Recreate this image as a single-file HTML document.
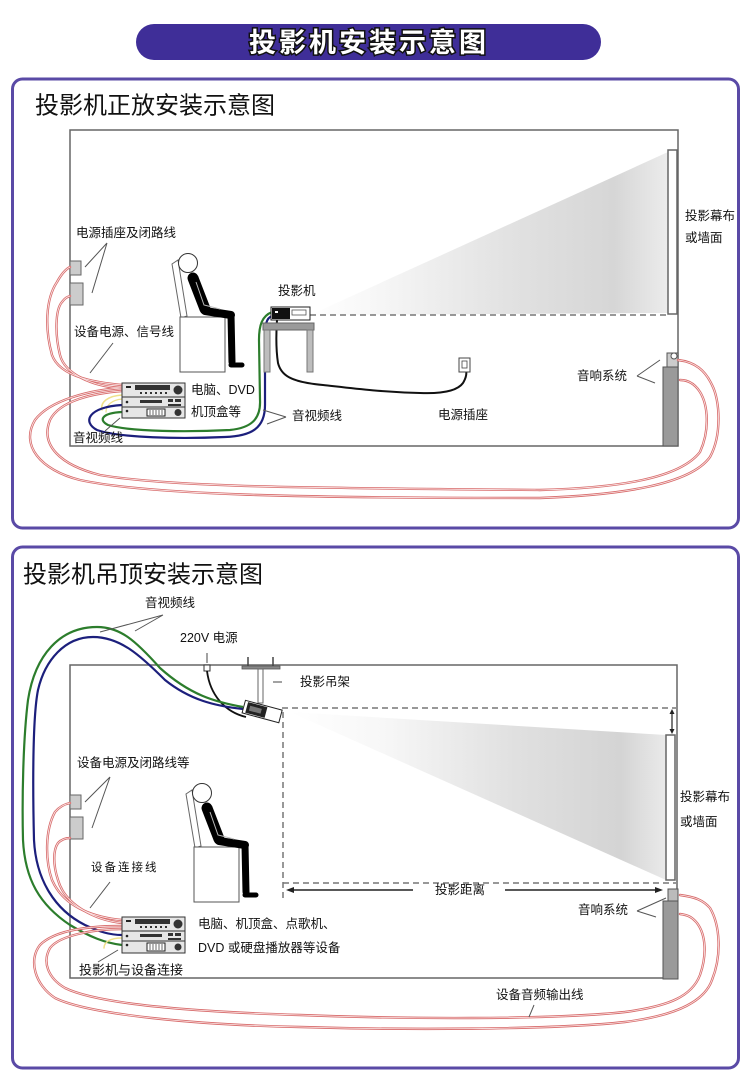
<!DOCTYPE html>
<html>
<head>
<meta charset="utf-8">
<style>
  html,body{margin:0;padding:0;background:#fff;}
  svg{display:block;}
  text{font-family:"Liberation Sans","Noto Sans CJK SC",sans-serif;}
</style>
</head>
<body>
<svg width="750" height="1092" viewBox="0 0 750 1092" xmlns="http://www.w3.org/2000/svg">
  <defs>
    <linearGradient id="beam1" x1="310" y1="0" x2="668" y2="0" gradientUnits="userSpaceOnUse">
      <stop offset="0" stop-color="#ffffff"/>
      <stop offset="0.2" stop-color="#f6f6f6"/>
      <stop offset="0.55" stop-color="#e2e2e2"/>
      <stop offset="0.85" stop-color="#d6d6d6"/>
      <stop offset="1" stop-color="#ececec"/>
    </linearGradient>
    <linearGradient id="beam2" x1="290" y1="0" x2="666" y2="0" gradientUnits="userSpaceOnUse">
      <stop offset="0" stop-color="#ffffff"/>
      <stop offset="0.25" stop-color="#f7f7f7"/>
      <stop offset="0.6" stop-color="#e0e0e0"/>
      <stop offset="0.88" stop-color="#d4d4d4"/>
      <stop offset="1" stop-color="#eaeaea"/>
    </linearGradient>
  </defs>

  <!-- Banner -->
  <rect x="136" y="24" width="465" height="36" rx="18" fill="#3f2e98"/>
  <text x="369" y="43" font-size="27" font-weight="bold" fill="#fff" stroke="#111" stroke-width="3" paint-order="stroke" text-anchor="middle" dominant-baseline="central" letter-spacing="3">投影机安装示意图</text>

  <!-- Panel 1 -->
  <rect x="12.5" y="79" width="726" height="449" rx="10" fill="#fff" stroke="#5a4aa6" stroke-width="3"/>
  <text x="35" y="106" font-size="24" fill="#111" dominant-baseline="central">投影机正放安装示意图</text>

  <!-- beam 1 -->
  <polygon points="310,315 668,152 668,313" fill="url(#beam1)"/>
  <!-- room 1 -->
  <rect x="70" y="130" width="608" height="316" fill="none" stroke="#666" stroke-width="1.5"/>
  <!-- dashed -->
  <line x1="310" y1="315" x2="668" y2="315" stroke="#777" stroke-width="1.5" stroke-dasharray="6 4"/>
  <!-- screen -->
  <rect x="668" y="150" width="9" height="164" fill="#fff" stroke="#666" stroke-width="1.5"/>
  <!-- speaker -->
  <rect x="667" y="353" width="11" height="14" fill="#ccc" stroke="#555"/>
  <circle cx="674" cy="356" r="3" fill="#fff" stroke="#555"/>
  <rect x="663" y="367" width="15" height="79" fill="#9a9a9a" stroke="#555"/>

  <!-- outlets -->
  <rect x="70" y="261" width="11" height="14" fill="#ccc" stroke="#666"/>
  <rect x="70" y="283" width="13" height="22" fill="#ccc" stroke="#666"/>

  <!-- red cables panel 1 -->
  <g fill="none" stroke-linecap="round">
    <g stroke="#d76a6a" stroke-width="2.4">
      <path d="M122 385 C100 383,60 378,52 355 C45 330,45 300,57 282 C62 273,66 269,70 267"/>
      <path d="M122 388 C95 387,65 375,60 355 C55 335,55 310,62 302 C65 298,67 297,70 296"/>
      <path d="M122 388 C90 390,50 400,35 420 C20 445,40 470,80 480 C150 495,300 498,540 498 C620 495,690 485,710 457 C722 435,720 400,712 385 C705 370,695 362,678 360"/>
      <path d="M122 391 C95 393,60 400,50 420 C40 445,60 465,100 475 C170 487,300 488,540 490 C620 488,680 478,700 452 C710 430,708 405,700 392 C695 384,688 380,680 380"/>
    </g>
    <g stroke="#fbeaea" stroke-width="0.8">
      <path d="M122 385 C100 383,60 378,52 355 C45 330,45 300,57 282 C62 273,66 269,70 267"/>
      <path d="M122 388 C95 387,65 375,60 355 C55 335,55 310,62 302 C65 298,67 297,70 296"/>
      <path d="M122 388 C90 390,50 400,35 420 C20 445,40 470,80 480 C150 495,300 498,540 498 C620 495,690 485,710 457 C722 435,720 400,712 385 C705 370,695 362,678 360"/>
      <path d="M122 391 C95 393,60 400,50 420 C40 445,60 465,100 475 C170 487,300 488,540 490 C620 488,680 478,700 452 C710 430,708 405,700 392 C695 384,688 380,680 380"/>
    </g>
    <!-- yellow faint -->
    <path d="M122 395 C108 396,100 402,102 410" stroke="#efe08a" stroke-width="1.5"/>
    <path d="M122 399 C112 400,106 405,106 412" stroke="#efe08a" stroke-width="1.2"/>
  </g>

  <!-- green / blue cables panel 1 -->
  <path d="M272 312 C262 316,259 325,259 340 L260 400 C261 420,250 428,230 430 C190 432,130 432,108 425 C98 420,102 413,122 412" fill="none" stroke="#2c7d2c" stroke-width="2.2"/>
  <path d="M272 316 C266 318,265 325,265 340 L265 405 C265 428,252 436,225 437 C180 439,120 438,97 430 C82 422,88 407,122 405" fill="none" stroke="#1c1f7c" stroke-width="2.2"/>

  <!-- power cable -->
  <path d="M277 320 C276 335,276 350,278 363 C281 375,290 382,323 385 C350 388,380 392,420 393 C445 394,458 390,463 383 C466 378,467 374,466 370" fill="none" stroke="#111" stroke-width="2"/>
  <!-- wall outlet -->
  <rect x="459" y="358" width="11" height="14" fill="#fff" stroke="#444"/>
  <rect x="462" y="361" width="5" height="7" fill="#fff" stroke="#444" stroke-width="0.8"/>

  <!-- table -->
  <rect x="263" y="323" width="51" height="7" fill="#9a9a9a" stroke="#666"/>
  <rect x="264" y="330" width="6" height="42" fill="#bdbdbd" stroke="#777"/>
  <rect x="307" y="330" width="6" height="42" fill="#bdbdbd" stroke="#777"/>
  <!-- projector 1 -->
  <rect x="271" y="307" width="39" height="13" fill="#fff" stroke="#222"/>
  <rect x="272" y="308" width="18" height="11" fill="#111"/>
  <rect x="275" y="311" width="3" height="2" fill="#fff"/>
  <rect x="292" y="310" width="14" height="5" fill="none" stroke="#555" stroke-width="0.8"/>

  <!-- person 1 -->
  <polygon points="172,264 178,260 187,316 181,318" fill="#fff" stroke="#666"/>
  <rect x="180" y="317" width="45" height="55" fill="#fff" stroke="#555"/>
  <g stroke="#000" stroke-linecap="round" fill="none">
    <path d="M193 278 L205 309" stroke-width="11"/>
    <path d="M205 311 L231 315" stroke-width="8"/>
    <path d="M231 315 L232 362" stroke-width="7"/>
    <path d="M231 365 L242 365" stroke-width="5"/>
  </g>
  <path d="M196 282 L204 305 L220 309" fill="none" stroke="#bbb" stroke-width="1"/>
  <circle cx="188" cy="263" r="9.5" fill="#fff" stroke="#333"/>

  <!-- equipment 1 -->
  <g id="eq1">
    <rect x="122" y="383" width="63" height="14" fill="#e6e6e6" stroke="#333"/>
    <rect x="126" y="386" width="5" height="2" fill="#222"/>
    <rect x="135" y="385" width="35" height="5" fill="#333"/>
    <g fill="#333">
      <rect x="140" y="392" width="2" height="2"/><rect x="145" y="392" width="2" height="2"/><rect x="150" y="392" width="2" height="2"/><rect x="155" y="392" width="2" height="2"/><rect x="160" y="392" width="2" height="2"/><rect x="165" y="392" width="2" height="2"/>
    </g>
    <circle cx="178" cy="390" r="4.5" fill="#333"/>
    <rect x="122" y="397" width="63" height="10" fill="#e6e6e6" stroke="#333"/>
    <circle cx="127" cy="402" r="1.3" fill="#222"/>
    <rect x="140" y="400" width="22" height="3" fill="#333"/>
    <rect x="168" y="399" width="5" height="3" fill="#333"/>
    <rect x="175" y="399" width="6" height="3" fill="#333"/>
    <rect x="168" y="404" width="13" height="2" fill="#333"/>
    <rect x="122" y="407" width="63" height="11" fill="#e6e6e6" stroke="#333"/>
    <circle cx="127" cy="411" r="1.3" fill="#222"/>
    <rect x="147" y="409" width="18" height="7" fill="#fff" stroke="#222"/>
    <path d="M150 410 V415 M153 410 V415 M156 410 V415 M159 410 V415 M162 410 V415" stroke="#444" stroke-width="0.8"/>
    <circle cx="178" cy="412.5" r="3.5" fill="#333"/>
  </g>

  <!-- pointers panel 1 -->
  <g stroke="#555" stroke-width="1" fill="none">
    <path d="M107 243 L85 267 M107 243 L92 293"/>
    <path d="M113 343 L90 373"/>
    <path d="M105 431 L120 418"/>
    <path d="M286 417 L263 410 M286 417 L267 424"/>
    <path d="M637 376 L660 360 M637 376 L655 383"/>
  </g>

  <!-- labels panel 1 -->
  <g font-size="12.5" fill="#111" dominant-baseline="central">
    <text x="76" y="233">电源插座及闭路线</text>
    <text x="74" y="332">设备电源、信号线</text>
    <text x="278" y="291">投影机</text>
    <text x="191" y="390">电脑、DVD</text>
    <text x="191" y="412">机顶盒等</text>
    <text x="292" y="416">音视频线</text>
    <text x="73" y="438">音视频线</text>
    <text x="438" y="415">电源插座</text>
    <text x="685" y="216">投影幕布</text>
    <text x="685" y="238">或墙面</text>
    <text x="577" y="376">音响系统</text>
  </g>

  <!-- Panel 2 -->
  <rect x="12.5" y="547" width="726" height="521" rx="10" fill="#fff" stroke="#5a4aa6" stroke-width="3"/>
  <text x="23" y="575" font-size="24" fill="#111" dominant-baseline="central">投影机吊顶安装示意图</text>

  <!-- beam 2 -->
  <polygon points="290,712 666,735 666,880" fill="url(#beam2)"/>
  <!-- room 2 -->
  <rect x="70" y="665" width="607" height="313" fill="none" stroke="#666" stroke-width="1.5"/>
  <!-- dashed lines -->
  <g stroke="#777" stroke-width="1.5" stroke-dasharray="6 4" fill="none">
    <line x1="282" y1="708" x2="676" y2="708"/>
    <line x1="283" y1="712" x2="283" y2="900"/>
    <line x1="283" y1="883" x2="676" y2="883"/>
  </g>
  <!-- screen 2 -->
  <rect x="666" y="735" width="9" height="145" fill="#fff" stroke="#666" stroke-width="1.5"/>
  <!-- double arrow -->
  <g stroke="#222" stroke-width="1.2" fill="#222">
    <line x1="672" y1="712" x2="672" y2="731"/>
    <polygon points="672,709 669.5,714 674.5,714" stroke="none"/>
    <polygon points="672,734 669.5,729 674.5,729" stroke="none"/>
  </g>
  <!-- distance arrow -->
  <g stroke="#222" stroke-width="1.5" fill="#222">
    <line x1="290" y1="890" x2="413" y2="890"/>
    <line x1="505" y1="890" x2="659" y2="890"/>
    <polygon points="286,890 294,887 294,893" stroke="none"/>
    <polygon points="663,890 655,887 655,893" stroke="none"/>
  </g>
  <!-- speaker 2 -->
  <rect x="668" y="889" width="10" height="12" fill="#bbb" stroke="#555"/>
  <rect x="663" y="901" width="15" height="78" fill="#9a9a9a" stroke="#555"/>

  <!-- ceiling mount -->
  <rect x="242" y="666" width="38" height="3" fill="#888" stroke="#555" stroke-width="0.8"/>
  <line x1="248" y1="657" x2="248" y2="666" stroke="#444" stroke-width="1.5"/>
  <line x1="273" y1="657" x2="273" y2="666" stroke="#444" stroke-width="1.5"/>
  <rect x="258" y="669" width="5" height="34" fill="#fff" stroke="#666"/>
  <line x1="273" y1="682" x2="282" y2="682" stroke="#444" stroke-width="1"/>

  <!-- 220V -->
  <line x1="207" y1="653" x2="207" y2="663" stroke="#444" stroke-width="1"/>
  <rect x="204" y="665" width="6" height="6" fill="#fff" stroke="#333"/>
  <path d="M207 671 C210 695,225 712,246 717" fill="none" stroke="#111" stroke-width="1.8"/>

  <!-- green / blue panel 2 -->
  <path d="M243 707 C215 702,190 695,160 668 C135 640,120 627,97 627 C60 627,35 655,28 700 C23 740,22 800,23 840 C25 880,40 905,70 925 C90 937,105 943,122 945" fill="none" stroke="#2c7d2c" stroke-width="2.2"/>
  <path d="M243 709 C215 706,190 700,165 680 C140 655,120 637,93 637 C65 637,45 660,38 690 C32 720,33 800,34 840 C36 880,55 910,85 925 C100 932,110 935,122 935" fill="none" stroke="#1c1f7c" stroke-width="2.2"/>

  <!-- projector 2 -->
  <g transform="rotate(15 262 712)">
    <rect x="243" y="705" width="38" height="13" fill="#fff" stroke="#222"/>
    <rect x="246" y="706" width="20" height="11" fill="#222"/>
    <rect x="249" y="709" width="12" height="5" fill="#777"/>
  </g>

  <!-- outlets 2 -->
  <rect x="70" y="795" width="11" height="14" fill="#ccc" stroke="#666"/>
  <rect x="70" y="817" width="13" height="22" fill="#ccc" stroke="#666"/>

  <!-- red cables panel 2 -->
  <g fill="none" stroke-linecap="round">
    <g stroke="#d76a6a" stroke-width="2.4">
      <path d="M122 920 C100 918,65 910,52 880 C45 860,45 830,55 812 C60 806,65 804,70 803"/>
      <path d="M122 923 C95 920,65 905,58 880 C53 865,53 850,58 843 C62 839,66 838,70 838"/>
      <path d="M122 926 C90 926,55 930,40 945 C28 960,35 985,55 998 C90 1015,200 1025,300 1027 C400 1030,550 1030,625 1022 C680 1015,705 1000,712 980 C722 955,720 925,710 908 C703 900,695 897,680 895"/>
      <path d="M122 929 C95 929,60 935,50 948 C42 962,48 978,65 988 C100 1005,200 1012,300 1015 C400 1019,550 1020,625 1012 C670 1006,692 996,700 975 C707 955,706 935,697 923 C692 917,688 915,680 914"/>
    </g>
    <g stroke="#fbeaea" stroke-width="0.8">
      <path d="M122 920 C100 918,65 910,52 880 C45 860,45 830,55 812 C60 806,65 804,70 803"/>
      <path d="M122 923 C95 920,65 905,58 880 C53 865,53 850,58 843 C62 839,66 838,70 838"/>
      <path d="M122 926 C90 926,55 930,40 945 C28 960,35 985,55 998 C90 1015,200 1025,300 1027 C400 1030,550 1030,625 1022 C680 1015,705 1000,712 980 C722 955,720 925,710 908 C703 900,695 897,680 895"/>
      <path d="M122 929 C95 929,60 935,50 948 C42 962,48 978,65 988 C100 1005,200 1012,300 1015 C400 1019,550 1020,625 1012 C670 1006,692 996,700 975 C707 955,706 935,697 923 C692 917,688 915,680 914"/>
    </g>
    <path d="M122 938 C110 938,104 942,104 948" stroke="#efe08a" stroke-width="1.5"/>
  </g>

  <!-- person 2 -->
  <g transform="translate(14,530)">
    <polygon points="172,264 178,260 187,316 181,318" fill="#fff" stroke="#666"/>
    <rect x="180" y="317" width="45" height="55" fill="#fff" stroke="#555"/>
    <g stroke="#000" stroke-linecap="round" fill="none">
      <path d="M193 278 L205 309" stroke-width="11"/>
      <path d="M205 311 L231 315" stroke-width="8"/>
      <path d="M231 315 L232 362" stroke-width="7"/>
      <path d="M231 365 L242 365" stroke-width="5"/>
    </g>
    <path d="M196 282 L204 305 L220 309" fill="none" stroke="#bbb" stroke-width="1"/>
    <circle cx="188" cy="263" r="9.5" fill="#fff" stroke="#333"/>
  </g>

  <!-- equipment 2 -->
  <g transform="translate(0,534)">
    <rect x="122" y="383" width="63" height="14" fill="#e6e6e6" stroke="#333"/>
    <rect x="126" y="386" width="5" height="2" fill="#222"/>
    <rect x="135" y="385" width="35" height="5" fill="#333"/>
    <g fill="#333">
      <rect x="140" y="392" width="2" height="2"/><rect x="145" y="392" width="2" height="2"/><rect x="150" y="392" width="2" height="2"/><rect x="155" y="392" width="2" height="2"/><rect x="160" y="392" width="2" height="2"/><rect x="165" y="392" width="2" height="2"/>
    </g>
    <circle cx="178" cy="390" r="4.5" fill="#333"/>
    <rect x="122" y="397" width="63" height="10" fill="#e6e6e6" stroke="#333"/>
    <circle cx="127" cy="402" r="1.3" fill="#222"/>
    <rect x="140" y="400" width="22" height="3" fill="#333"/>
    <rect x="168" y="399" width="5" height="3" fill="#333"/>
    <rect x="175" y="399" width="6" height="3" fill="#333"/>
    <rect x="168" y="404" width="13" height="2" fill="#333"/>
    <rect x="122" y="407" width="63" height="12" fill="#e6e6e6" stroke="#333"/>
    <circle cx="127" cy="411" r="1.3" fill="#222"/>
    <rect x="147" y="409" width="18" height="8" fill="#fff" stroke="#222"/>
    <path d="M150 410 V416 M153 410 V416 M156 410 V416 M159 410 V416 M162 410 V416" stroke="#444" stroke-width="0.8"/>
    <circle cx="178" cy="413" r="3.5" fill="#333"/>
  </g>

  <!-- pointers panel 2 -->
  <g stroke="#555" stroke-width="1" fill="none">
    <path d="M163 615 L100 632 M163 615 L135 631"/>
    <path d="M110 777 L85 802 M110 777 L92 828"/>
    <path d="M110 882 L90 908"/>
    <path d="M98 962 L118 950"/>
    <path d="M637 911 L666 898 M637 911 L656 917"/>
    <path d="M534 1005 L529 1017"/>
  </g>

  <!-- labels panel 2 -->
  <g font-size="12.5" fill="#111" dominant-baseline="central">
    <text x="145" y="603">音视频线</text>
    <text x="180" y="638">220V 电源</text>
    <text x="300" y="682">投影吊架</text>
    <text x="77" y="763">设备电源及闭路线等</text>
    <text x="680" y="797">投影幕布</text>
    <text x="680" y="822">或墙面</text>
    <text x="91" y="868" font-size="11.5" letter-spacing="2">设备连接线</text>
    <text x="435" y="890">投影距离</text>
    <text x="578" y="910">音响系统</text>
    <text x="198" y="924">电脑、机顶盒、点歌机、</text>
    <text x="198" y="948">DVD 或硬盘播放器等设备</text>
    <text x="79" y="970" font-size="13">投影机与设备连接</text>
    <text x="496" y="995">设备音频输出线</text>
  </g>
</svg>
</body>
</html>
